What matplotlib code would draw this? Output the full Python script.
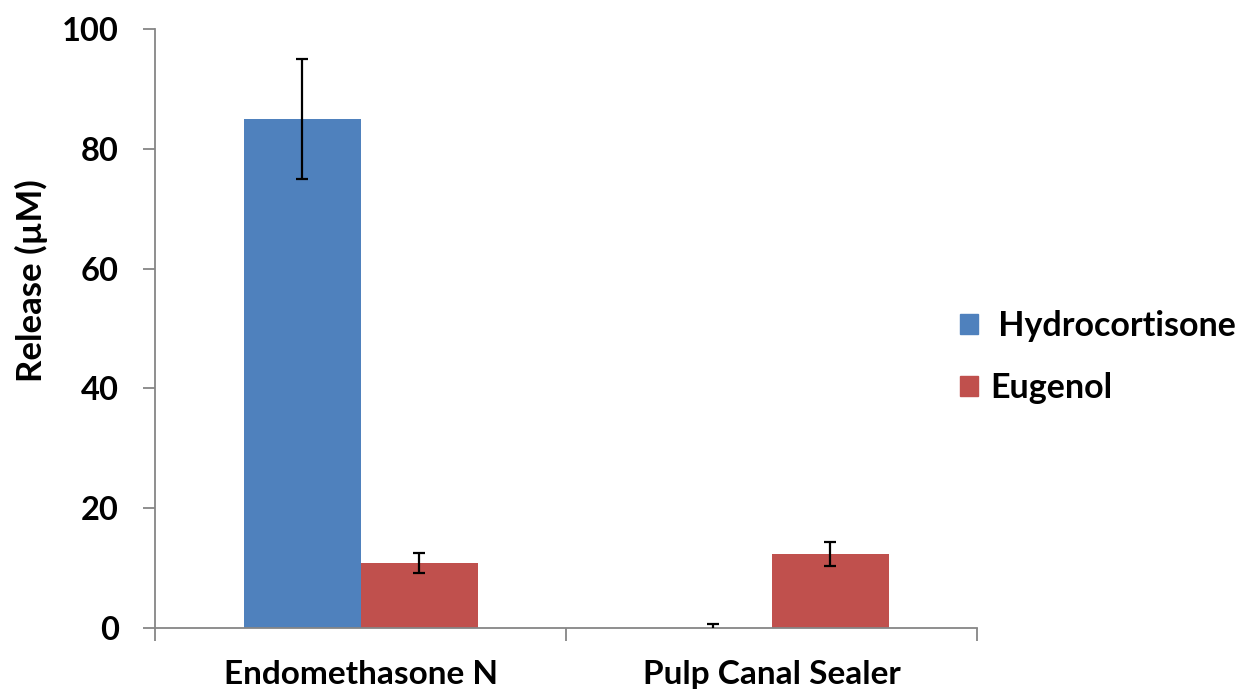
import matplotlib
matplotlib.use("Agg")
import matplotlib.pyplot as plt
import numpy as np
from matplotlib.patches import Patch

categories = ["Endomethasone N", "Pulp Canal Sealer"]
series_names = [" Hydrocortisone", "Eugenol"]
hydrocortisone = [85.0, 0.0]
hydrocortisone_err = [10.0, 0.6]
eugenol = [10.85, 12.3]
eugenol_err = [1.65, 2.0]
yticks = [0, 20, 40, 60, 80, 100]

colors = ["#4F81BD", "#C0504D"]
axis_gray = "#868686"

plt.rcParams['font.family'] = ['Lato', 'DejaVu Sans']
plt.rcParams['font.weight'] = 'bold'

fig = plt.figure(figsize=(12.43, 6.95), dpi=100)
ax = fig.add_axes([155/1243, 1 - 628/695, (977-155)/1243, (628-29)/695])

x = np.arange(len(categories))
w = 117/411
ax.bar(x - w/2, hydrocortisone, w, color=colors[0], zorder=2)
ax.bar(x + w/2, eugenol, w, color=colors[1], zorder=2)
ax.errorbar(x - w/2, hydrocortisone, yerr=hydrocortisone_err, fmt='none',
            ecolor='black', elinewidth=1.6, capsize=4.5, capthick=1.6, zorder=3)
ax.errorbar(x + w/2, eugenol, yerr=eugenol_err, fmt='none',
            ecolor='black', elinewidth=1.6, capsize=4.5, capthick=1.6, zorder=3)

ax.set_xlim(-0.5, len(categories) - 0.5)
ax.set_ylim(0, 100)
ax.set_yticks(yticks)
ax.set_yticklabels([str(t) for t in yticks], fontsize=23.5, fontweight='bold')

ax.set_xticks(np.arange(len(categories) + 1) - 0.5)
ax.set_xticklabels([])
ax.set_xticks(x, minor=True)
ax.set_xticklabels(categories, minor=True, fontsize=24, fontweight='bold')
ax.tick_params(axis='x', which='major', length=9, width=1.3, color=axis_gray, direction='out')
ax.tick_params(axis='x', which='minor', length=0, pad=23)
ax.tick_params(axis='y', length=9, width=1.3, color=axis_gray, direction='out', pad=17)

for s in ['top', 'right']:
    ax.spines[s].set_visible(False)
for s in ['left', 'bottom']:
    ax.spines[s].set_color(axis_gray)
    ax.spines[s].set_linewidth(1.3)

fig.text(31/1243, 1 - 281/695, "Release (µM)", rotation=90, fontsize=25,
         fontweight='bold', ha='center', va='center')

handles = [Patch(color=c) for c in colors]
leg = fig.legend(handles, series_names, loc='center left',
                 bbox_to_anchor=(929/1243, 1 - 357/695), frameon=False,
                 handlelength=0.53, handleheight=0.53,
                 handletextpad=0.36, labelspacing=0.88,
                 prop={'weight': 'bold', 'size': 24.5})

fig.savefig("out.png", dpi=100)
